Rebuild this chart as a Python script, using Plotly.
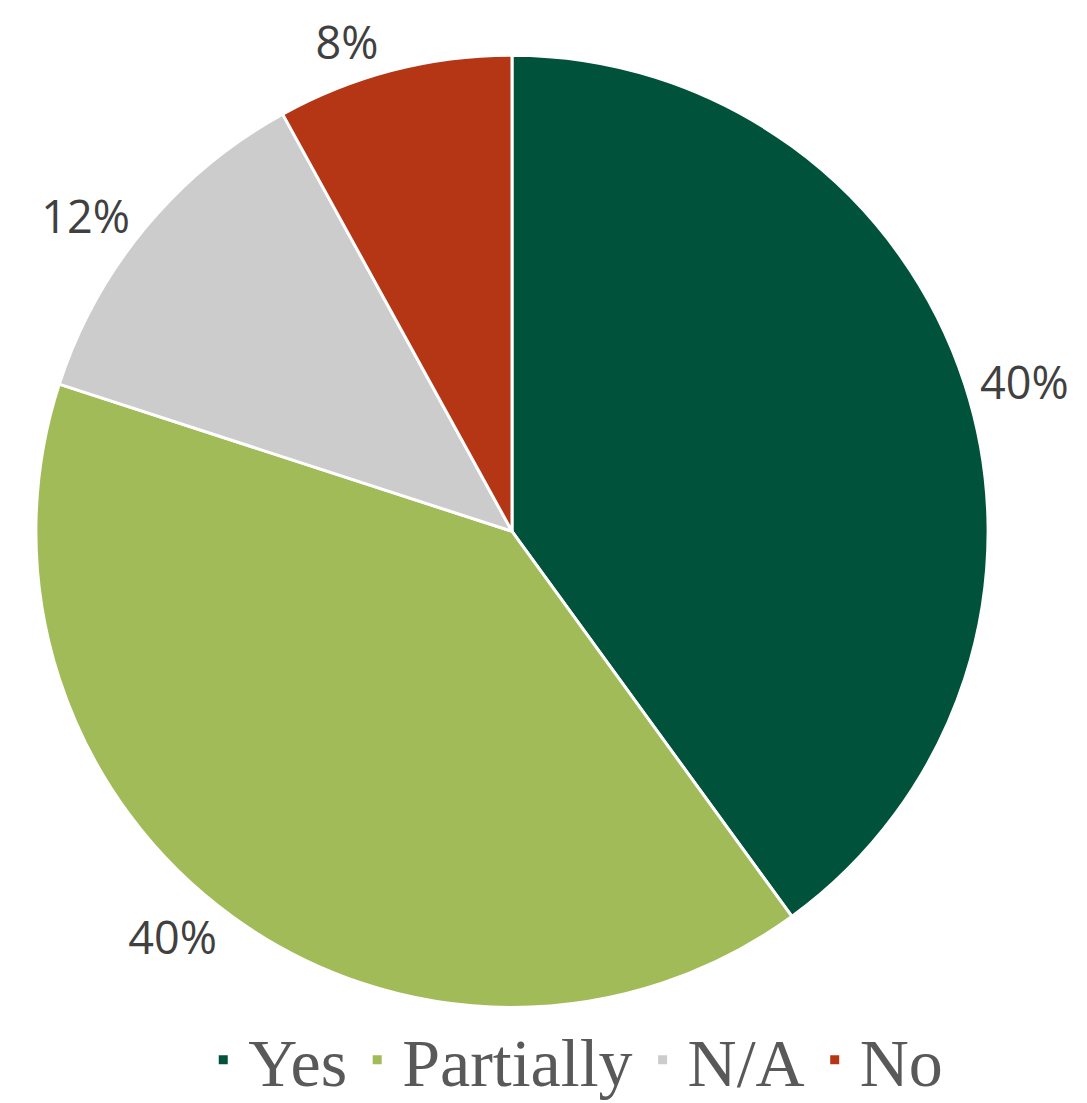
import plotly.graph_objects as go

categories = ["Yes", "Partially", "N/A", "No"]
values = [40, 40, 12, 8]
colors = ["#00533A", "#A1BB59", "#CCCCCC", "#B53615"]

W, H = 1087, 1103
cx, cy, r = 504, 532, 484

fig = go.Figure(go.Pie(
    labels=categories,
    values=values,
    sort=False,
    direction="clockwise",
    rotation=0,
    marker=dict(colors=colors, line=dict(color="white", width=3)),
    textinfo="percent",
    texttemplate="%{percent:.0%}",
    textposition="outside",
    outsidetextfont=dict(family="Open Sans", size=45, color="#404040"),
    domain=dict(x=[(cx - r) / W, (cx + r) / W],
                y=[(H - cy - r) / H, (H - cy + r) / H]),
    automargin=False,
    hoverinfo="label+percent",
))

fig.update_layout(
    width=W, height=H,
    margin=dict(l=0, r=0, t=0, b=0),
    paper_bgcolor="white",
    plot_bgcolor="white",
    showlegend=True,
    legend=dict(
        orientation="h",
        x=0.52, xanchor="center",
        y=0.03, yanchor="middle",
        font=dict(family="Liberation Serif", size=68, color="#595959"),
        itemwidth=40,
        traceorder="normal",
    ),
)

fig.write_html("out.html")
